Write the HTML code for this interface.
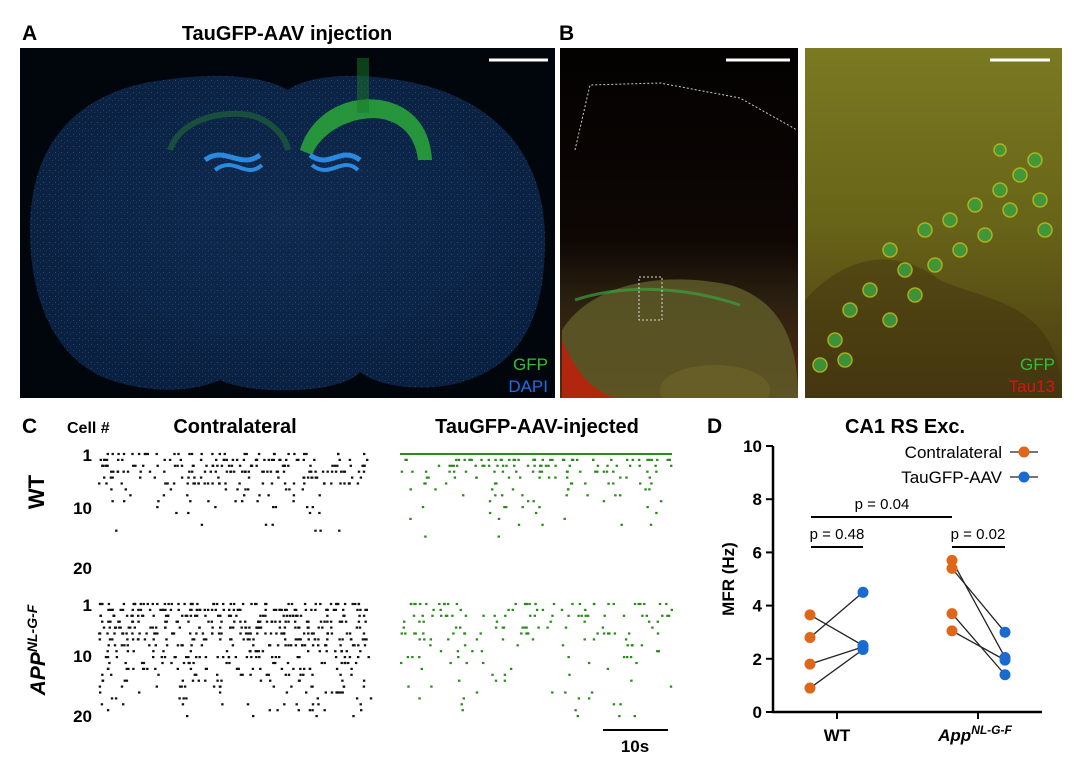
<!DOCTYPE html>
<html><head><meta charset="utf-8"><style>
body{margin:0;background:#fff;width:1080px;height:762px;overflow:hidden;font-family:"Liberation Sans",Arial,sans-serif}
svg{position:absolute;left:0;top:0}
</style></head><body>
<svg width="1080" height="762" viewBox="0 0 1080 762">
<defs>
<radialGradient id="brain" cx="0.5" cy="0.45" r="0.6"><stop offset="0" stop-color="#0f2a4e"/><stop offset="1" stop-color="#0a2040"/></radialGradient>
<linearGradient id="bl" x1="0" y1="0" x2="0" y2="1"><stop offset="0" stop-color="#030101"/><stop offset="0.55" stop-color="#0e0704"/><stop offset="0.72" stop-color="#2a2010"/><stop offset="1" stop-color="#5a2a10"/></linearGradient>
<linearGradient id="br" x1="0" y1="0" x2="0" y2="1"><stop offset="0" stop-color="#7a7a22"/><stop offset="0.5" stop-color="#686418"/><stop offset="1" stop-color="#4a3a12"/></linearGradient>
<pattern id="speck" width="6" height="6" patternUnits="userSpaceOnUse"><rect x="1" y="2" width="1" height="1" fill="#2a5a90"/><rect x="4" y="4" width="1" height="1" fill="#1e4a7a"/></pattern>
<clipPath id="clipB"><rect x="560" y="48" width="238" height="350"/></clipPath>
<clipPath id="clipB2"><rect x="805" y="48" width="257" height="350"/></clipPath>
</defs>
<text x="22" y="40" font-size="21" font-weight="bold">A</text>
<text x="287" y="40" font-size="20" font-weight="bold" text-anchor="middle">TauGFP-AAV injection</text>
<g>
<rect x="20" y="48" width="535" height="350" fill="#01050c"/>
<path d="M30,230 C30,140 80,95 150,82 C210,72 260,74 288,90 C310,74 360,72 410,82 C490,98 545,150 545,240 C545,320 520,370 450,385 C400,393 370,380 360,372 C340,395 250,395 220,380 C190,393 150,393 110,380 C55,360 30,300 30,230 Z" fill="url(#brain)"/>
<path d="M30,230 C30,140 80,95 150,82 C210,72 260,74 288,90 C310,74 360,72 410,82 C490,98 545,150 545,240 C545,320 520,370 450,385 C400,393 370,380 360,372 C340,395 250,395 220,380 C190,393 150,393 110,380 C55,360 30,300 30,230 Z" fill="url(#speck)" opacity="0.7"/>
<path d="M300,150 C310,115 345,95 380,100 C410,105 430,125 432,160 L418,160 C415,135 400,120 375,118 C345,118 320,135 312,155 Z" fill="#2aa83a" opacity="0.85"/>
<rect x="357" y="58" width="12" height="55" fill="#1a7a2a" opacity="0.5"/>
<path d="M170,150 C180,120 220,110 250,115 C270,120 285,135 288,150" fill="none" stroke="#1a5a3a" stroke-width="6" opacity="0.8"/>
<path d="M205,160 C225,145 240,170 260,155" stroke="#2a8ae0" stroke-width="5" fill="none"/>
<path d="M215,170 C235,155 245,180 262,165" stroke="#2a8ae0" stroke-width="4" fill="none"/>
<path d="M310,155 C330,170 340,145 360,160" stroke="#2a8ae0" stroke-width="5" fill="none"/>
<path d="M312,165 C330,180 342,155 358,170" stroke="#2a8ae0" stroke-width="4" fill="none"/>
<line x1="489" y1="60" x2="548" y2="60" stroke="#fff" stroke-width="3"/>
<text x="548" y="370" font-size="17" fill="#2fc03a" text-anchor="end">GFP</text>
<text x="548" y="392" font-size="17" fill="#1e6ee8" text-anchor="end">DAPI</text>
</g>
<text x="559" y="40" font-size="21" font-weight="bold">B</text>
<g clip-path="url(#clipB)">
<rect x="560" y="48" width="238" height="350" fill="url(#bl)"/>
<path d="M562,330 C590,285 660,270 730,285 C780,300 798,340 798,398 L562,398Z" fill="#5e5a28" opacity="0.85"/>
<path d="M575,300 C620,285 680,285 740,305" stroke="#3aa040" stroke-width="3" fill="none" opacity="0.7"/>
<path d="M562,340 C575,370 590,390 615,398 L562,398Z" fill="#c0200a" opacity="0.85"/>
<ellipse cx="715" cy="390" rx="55" ry="25" fill="#6a6228" opacity="0.8"/>
<path d="M575,150 L590,85 L660,83 L740,98 L797,130" stroke="#ccc" stroke-dasharray="2,2" fill="none"/>
<rect x="639" y="277" width="23" height="43" fill="none" stroke="#ddd" stroke-dasharray="2,2"/>
<line x1="726" y1="60" x2="790" y2="60" stroke="#fff" stroke-width="3"/>
</g>
<g clip-path="url(#clipB2)">
<rect x="805" y="48" width="257" height="350" fill="url(#br)"/>
<path d="M805,300 C850,250 900,250 940,280 C980,300 1062,300 1062,398 L805,398Z" fill="#3e300e" opacity="0.45"/>
<g fill="#3aa040" opacity="0.85" stroke="#b8c020" stroke-width="1.5">
<circle cx="890" cy="250" r="7"/><circle cx="905" cy="270" r="7"/><circle cx="925" cy="230" r="7"/><circle cx="950" cy="220" r="7"/><circle cx="975" cy="205" r="7"/><circle cx="1000" cy="190" r="7"/><circle cx="1020" cy="175" r="7"/><circle cx="1035" cy="160" r="7"/><circle cx="1010" cy="210" r="7"/><circle cx="985" cy="235" r="7"/><circle cx="960" cy="250" r="7"/><circle cx="935" cy="265" r="7"/><circle cx="915" cy="295" r="7"/><circle cx="870" cy="290" r="7"/><circle cx="850" cy="310" r="7"/><circle cx="835" cy="340" r="7"/><circle cx="820" cy="365" r="7"/><circle cx="845" cy="360" r="7"/><circle cx="890" cy="320" r="7"/><circle cx="1040" cy="200" r="7"/><circle cx="1045" cy="230" r="7"/><circle cx="1000" cy="150" r="6"/>
</g>
<line x1="990" y1="60" x2="1050" y2="60" stroke="#fff" stroke-width="3"/>
<text x="1055" y="370" font-size="17" fill="#2fc03a" text-anchor="end">GFP</text>
<text x="1055" y="392" font-size="17" fill="#e01010" text-anchor="end">Tau13</text>
</g>
<text x="22" y="433" font-size="21" font-weight="bold">C</text>
<text x="67" y="433" font-size="16" font-weight="bold">Cell #</text>
<text x="235" y="433" font-size="20" font-weight="bold" text-anchor="middle">Contralateral</text>
<text x="537" y="433" font-size="20" font-weight="bold" text-anchor="middle">TauGFP-AAV-injected</text>
<g font-size="17" font-weight="bold" text-anchor="end">
<text x="92" y="461">1</text><text x="92" y="514">10</text><text x="92" y="574">20</text>
<text x="92" y="611">1</text><text x="92" y="662">10</text><text x="92" y="722">20</text>
</g>
<text transform="translate(44,492) rotate(-90)" font-size="22" font-weight="bold" text-anchor="middle">WT</text>
<text transform="translate(45,650) rotate(-90)" font-size="21" font-weight="bold" font-style="italic" text-anchor="middle">APP<tspan font-size="14" dy="-8">NL-G-F</tspan></text>
<g id="rasters"></g>
<line x1="603" y1="730" x2="668" y2="730" stroke="#000" stroke-width="2"/>
<text x="635" y="752" font-size="17" font-weight="bold" text-anchor="middle">10s</text>
<text x="707" y="433" font-size="21" font-weight="bold">D</text>
<text x="905" y="433" font-size="20" font-weight="bold" text-anchor="middle">CA1 RS Exc.</text>
<g id="chartD"></g>
</svg>
<script>
const wtContraCounts=[30,34,38,42,22,32,10,8,9,6,4,0,3,4,0,0,0,0,0,0];
const wtInjCounts=[90,42,28,22,14,12,8,8,5,6,3,3,4,0,2,0,0,0,0,0];
const appContraCounts=[48,54,44,42,46,46,38,34,22,32,22,26,18,16,16,12,8,10,8,4];
const appInjCounts=[30,10,26,8,14,20,10,8,6,8,6,3,3,4,3,4,4,3,2,3];
const groups=["WT","App"];
const wtContra=[3.65,2.8,1.8,0.9];
const wtInj=[2.5,4.5,2.45,2.35];
const appContra=[5.7,5.4,3.7,3.05];
const appInj=[2.05,3.0,1.4,1.95];
const yTicks=[0,2,4,6,8,10];
const NS="http://www.w3.org/2000/svg";
function mk(t,a,p){const e=document.createElementNS(NS,t);for(const k in a)e.setAttribute(k,a[k]);p.appendChild(e);return e;}
const rg=document.getElementById('rasters');
function hash(i,j){let h=(i*73856093)^(j*19349663);h=(h^(h>>>13))*1274126177;h=h^(h>>>16);return ((h>>>0)%10000)/10000;}
function raster(counts,x0,y0,color,seed){
  const g=mk('g',{},rg);
  
  
  counts.forEach((c,r)=>{
    const y=y0+r*5.9;
    if(c>=80){const l=mk('rect',{x:x0,y:y-1,width:272,height:2,fill:color},g);
      
      return;}
    for(let k=0;k<c;k++){
      const x=x0+272*hash(seed+r*131,k+1);
      const s=mk('rect',{x:x.toFixed(1),y:y-1.1,width:2.4,height:2.2,fill:color},g);
      
      
    }
  });
}
raster(wtContraCounts,98,454,'#111',1);
raster(wtInjCounts,400,454,'#2a8a1a',2);
raster(appContraCounts,98,604,'#111',3);
raster(appInjCounts,400,604,'#2a8a1a',4);
const cg=document.getElementById('chartD');
const y=v=>712-v*26.6;
mk('line',{x1:773,y1:446,x2:773,y2:712,stroke:'#000','stroke-width':2.5},cg);
mk('line',{x1:772,y1:712,x2:1042,y2:712,stroke:'#000','stroke-width':2.5},cg);
yTicks.forEach(t=>{mk('line',{x1:766,y1:y(t),x2:773,y2:y(t),stroke:'#000','stroke-width':2},cg);
  const tx=mk('text',{x:762,y:y(t)+6,'font-size':17,'font-weight':'bold','text-anchor':'end'},cg);tx.textContent=t;
  
  });
const gx=[837,978];
gx.forEach(x=>mk('line',{x1:x,y1:712,x2:x,y2:719,stroke:'#000','stroke-width':2},cg));
let t1=mk('text',{x:837,y:741,'font-size':17,'font-weight':'bold','text-anchor':'middle'},cg);t1.textContent='WT';


let t2=mk('text',{x:975,y:741,'font-size':17,'font-weight':'bold','font-style':'italic','text-anchor':'middle'},cg);t2.innerHTML='App<tspan font-size="12" dy="-7">NL-G-F</tspan>';


const yl=mk('text',{transform:'translate(734,579) rotate(-90)','font-size':17,'font-weight':'bold','text-anchor':'middle'},cg);yl.textContent='MFR (Hz)';


function pairs(a,b,xa,xb){a.forEach((v,i)=>{const l=mk('line',{x1:xa,y1:y(v),x2:xb,y2:y(b[i]),stroke:'#222','stroke-width':1.3},cg);
  
  });
 a.forEach(v=>{const c=mk('circle',{cx:xa,cy:y(v),r:5.5,fill:'#e0661a'},cg);
  
  });
 b.forEach(v=>{const c=mk('circle',{cx:xb,cy:y(v),r:5.5,fill:'#1a6ad0'},cg);
  
  });}
pairs(wtContra,wtInj,810,863);
pairs(appContra,appInj,952,1005);
function bar(x1,x2,yy,txt,tx){mk('line',{x1:x1,y1:yy,x2:x2,y2:yy,stroke:'#000','stroke-width':2},cg);
 const t=mk('text',{x:tx,y:yy-8,'font-size':15,'text-anchor':'middle'},cg);t.textContent=txt;
 
 }
bar(811,952,517,'p = 0.04',882);
bar(811,863,547,'p = 0.48',837);
bar(952,1005,547,'p = 0.02',978);
[['Contralateral','#e0661a',458],['TauGFP-AAV','#1a6ad0',483]].forEach(([n,c,yy])=>{
 const t=mk('text',{x:1002,y:yy,'font-size':17,'text-anchor':'end'},cg);t.textContent=n;
 
 
 mk('line',{x1:1010,y1:yy-6,x2:1038,y2:yy-6,stroke:'#222','stroke-width':1.3},cg);
 const d=mk('circle',{cx:1024,cy:yy-6,r:5.5,fill:c},cg);
 
 });
</script>
</body></html>
